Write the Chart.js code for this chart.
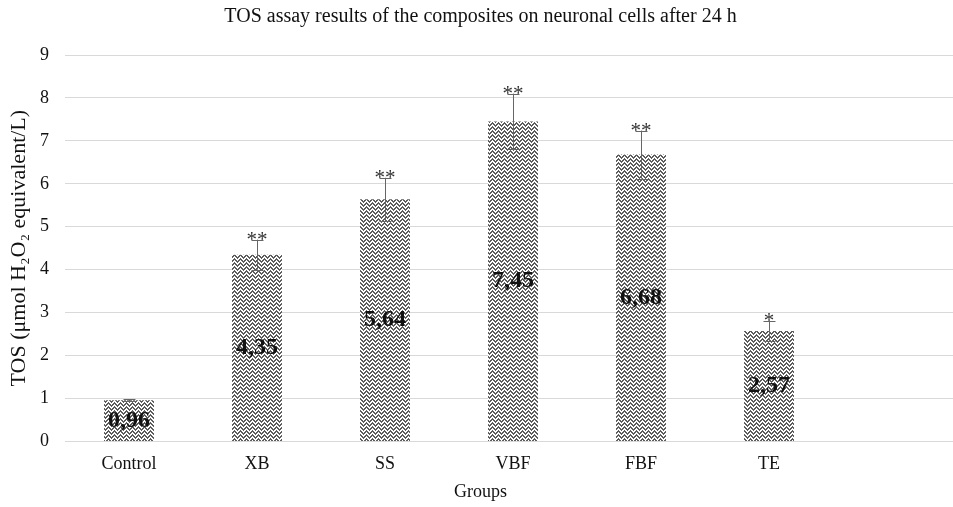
<!DOCTYPE html>
<html>
<head>
<meta charset="utf-8">
<script src="https://cdn.jsdelivr.net/npm/chart.js@4"></script>
<style>
  html, body { margin: 0; padding: 0; background: #fff; overflow: hidden; }
  .chart-box { width: 965px; height: 507px; }
</style>
</head>
<body>
<div class="chart-box"><canvas id="myChart"></canvas></div>
<script>
// data
const groups = ["Control", "XB", "SS", "VBF", "FBF", "TE", ""];
const tosValues = [0.96, 4.35, 5.64, 7.45, 6.68, 2.57, null];
const tosErrors = [0.02, 0.35, 0.5, 0.65, 0.56, 0.24, null];
const signif = ["", "**", "**", "**", "**", "*", ""];
const yTicks = [0, 1, 2, 3, 4, 5, 6, 7, 8, 9];

const serif = '"Liberation Serif", "Times New Roman", serif';
const ctx = document.getElementById("myChart");

// zig zag fill like the excel pattern
function makePattern() {
  const c = document.createElement("canvas");
  c.width = 6;
  c.height = 4;
  const g = c.getContext("2d");
  g.fillStyle = "#5c5c5c";
  g.fillRect(0, 0, 6, 4);
  g.fillStyle = "#ffffff";
  const zig = [0, 1, 2, 3, 2, 1];
  for (let x = 0; x < 6; x++) {
    g.fillRect(x, zig[x], 1, 1);
    g.fillRect(x, (zig[x] + 1) % 4, 1, 1);
  }
  return g.createPattern(c, "repeat");
}

const errorBars = {
  id: "errorBars",
  afterDatasetsDraw(chart) {
    const c = chart.ctx;
    const y = chart.scales.y;
    const meta = chart.getDatasetMeta(0);
    c.save();
    meta.data.forEach((bar, i) => {
      if (tosValues[i] == null) return;
      const x = bar.x;
      const top = y.getPixelForValue(tosValues[i] + tosErrors[i]);
      const bottom = y.getPixelForValue(tosValues[i] - tosErrors[i]);
      c.strokeStyle = "#666";
      c.lineWidth = 1;
      c.beginPath();
      c.moveTo(x + 0.5, top);
      c.lineTo(x + 0.5, bottom);
      c.moveTo(x - 5.5, Math.round(top) + 0.5);
      c.lineTo(x + 6.5, Math.round(top) + 0.5);
      c.moveTo(x - 5.5, Math.round(bottom) + 0.5);
      c.lineTo(x + 6.5, Math.round(bottom) + 0.5);
      c.stroke();

      // value in the middle of the bar
      c.fillStyle = "#111";
      c.textAlign = "center";
      c.textBaseline = "middle";
      c.font = "bold 24px " + serif;
      c.fillText(tosValues[i].toFixed(2).replace(".", ","), x, (bar.y + bar.base) / 2);

      // significance stars
      c.font = "21px " + serif;
      c.textBaseline = "alphabetic";
      c.fillStyle = "#333";
      c.fillText(signif[i], x, top + 6);
    });
    c.restore();
  }
};

const myChart = new Chart(ctx, {
  type: "bar",
  data: {
    labels: groups,
    datasets: [
      {
        data: tosValues,
        backgroundColor: makePattern(),
        borderWidth: 0,
        barPercentage: 0.39,
        categoryPercentage: 1
      }
    ]
  },
  options: {
    responsive: true,
    maintainAspectRatio: false,
    animation: false,
    layout: { padding: { left: 0, right: 4, top: 0, bottom: 0 } },
    plugins: {
      legend: { display: false },
      tooltip: { enabled: false },
      title: {
        display: true,
        text: "TOS assay results of the composites on neuronal cells after 24 h",
        color: "#111",
        font: { family: serif, size: 20, weight: "normal" },
        padding: { top: 5, bottom: 26 }
      },
      subtitle: {
        display: true,
        position: "bottom",
        text: "Groups",
        color: "#111",
        font: { family: serif, size: 18, weight: "normal" },
        padding: { top: 7, bottom: 4 }
      }
    },
    scales: {
      x: {
        grid: { display: false, drawTicks: false },
        border: { display: false },
        afterFit: (scale) => {
          scale.height = 33;
        },
        ticks: {
          color: "#111",
          font: { family: serif, size: 18 },
          padding: 12,
          maxRotation: 0
        }
      },
      y: {
        min: 0,
        max: 9,
        afterBuildTicks: (scale) => {
          scale.ticks = yTicks.map((v) => ({ value: v }));
        },
        afterFit: (scale) => {
          scale.width = 65;
        },
        grid: { color: "#d9d9d9", drawTicks: false },
        border: { display: false },
        ticks: {
          color: "#111",
          font: { family: serif, size: 18 },
          padding: 16
        },
        title: {
          display: true,
          text: "TOS (μmol H₂O₂ equivalent/L)",
          color: "#111",
          font: { family: serif, size: 22 },
          padding: { top: 6, bottom: 0 }
        }
      }
    }
  },
  plugins: [errorBars]
});
</script>
</body>
</html>
